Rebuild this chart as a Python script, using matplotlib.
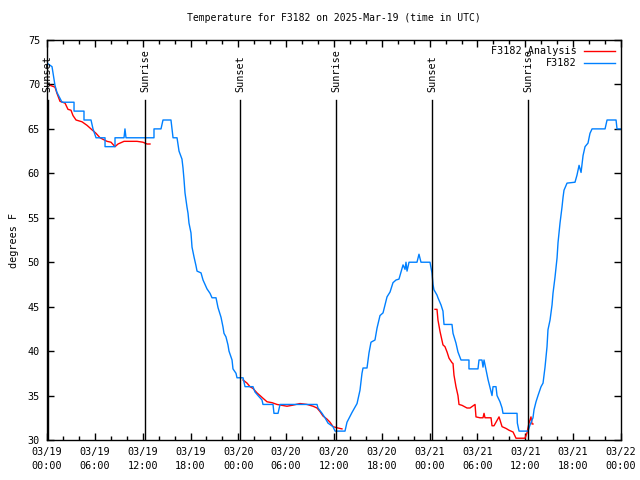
import numpy as np
import matplotlib
matplotlib.use('Agg')
import matplotlib.pyplot as plt

# hours since 03/19 00:00 UTC, temperature in deg F
obs_hours = [0.0, 0.63, 1.0, 1.25, 1.88, 3.39, 3.39, 4.64, 4.64, 5.52, 5.77, 6.15,
             7.28, 7.28, 8.53, 8.53, 9.66, 9.78, 9.91, 13.42, 13.42, 14.3, 14.55,
             15.55, 15.81, 16.31, 16.56, 16.93, 17.06, 17.19, 17.31, 17.56, 17.69,
             17.81, 18.06, 18.19, 18.44, 18.69, 18.82, 19.32, 19.57, 19.82, 20.07,
             20.45, 20.7, 21.2, 21.45, 21.83, 22.08, 22.2, 22.45, 22.7, 22.83,
             23.21, 23.33, 23.71, 23.83, 24.59, 24.84, 25.84, 26.09, 26.47, 26.97,
             27.09, 28.35, 28.47, 28.98, 29.23, 33.87, 33.99, 34.5, 34.87, 35.25,
             35.88, 36.13, 37.38, 37.63, 38.26, 38.89, 39.26, 39.51, 39.64, 40.14,
             40.39, 40.64, 41.14, 41.4, 41.77, 42.15, 42.4, 42.65, 43.03, 43.4,
             43.78, 44.15, 44.41, 44.66, 44.91, 45.03, 45.16, 45.41, 46.41, 46.66,
             46.91, 48.04, 48.29, 48.42, 48.54, 48.92, 49.04, 49.42, 49.67, 49.8,
             50.8, 50.93, 51.3, 51.55, 51.93, 52.93, 52.93, 54.06, 54.19, 54.56,
             54.69, 54.82, 55.07, 55.32, 55.57, 55.82, 55.95, 56.32, 56.45, 56.82,
             57.08, 57.2, 58.96, 59.0, 59.21, 60.34, 60.59, 60.96, 61.09, 61.34,
             61.59, 61.97, 62.22, 62.47, 62.72, 62.84, 63.1, 63.35, 63.47, 63.72,
             63.98, 64.1, 64.35, 64.6, 64.73, 64.85, 65.23, 66.23, 66.48, 66.74,
             66.99, 67.24, 67.49, 67.86, 68.11, 68.37, 70.0, 70.25, 71.38, 71.5, 72.0]
obs_temp = [72.4, 72, 69.9, 69.1, 68, 68, 67, 67, 66, 66, 65, 64,
            64, 63, 63, 64, 64, 65, 64, 64, 65, 65, 66,
            66, 64, 64, 62.5, 61.6, 60.6, 59.25, 57.8, 56.2, 55.5,
            54.4, 53.3, 51.7, 50.6, 49.6, 49, 48.8, 48, 47.5, 47,
            46.5, 46, 46, 44.9, 43.8, 42.7, 42, 41.6, 40.7, 40,
            39, 38, 37.5, 37, 37, 36, 36, 35.4, 35, 34.5,
            34, 34, 33, 33, 34, 34, 33.6, 33, 32.5, 31.9,
            31.5, 31, 31, 32, 33.1, 34.1, 35.6, 37.5, 38.1, 38.1,
            39.8, 41, 41.25, 42.6, 44, 44.3, 45.2, 46.1, 46.65, 47.7,
            48, 48.1, 48.9, 49.7, 49.2, 50, 49, 50, 50, 50.9,
            50, 50, 48.8, 47.5, 46.9, 46.3, 46, 45.2, 44.5, 43,
            43, 42, 40.9, 39.9, 39, 39, 38, 38, 39, 39,
            38.2, 39, 37.9, 36.8, 35.9, 35, 36, 36, 35, 34.3,
            33.6, 33, 33, 31.9, 31, 31, 31.7, 32.5, 33.4, 34.3,
            35, 36, 36.4, 38.2, 40.5, 42.4, 43.5, 45.2, 46.5, 48.3,
            50.5, 52.2, 54.4, 56.2, 57.3, 58.1, 58.9, 59, 59.8, 60.9,
            60.1, 62, 63, 63.4, 64.5, 65, 65, 66, 66, 65, 65]

# analysis series, three separate runs (nan = gap)
ana_hours = [0.38, 1.0, 1.25, 1.63, 2.26, 2.63, 3.01, 3.26, 3.64, 4.39, 5.02, 5.64,
             6.15, 6.65, 7.53, 8.03, 8.53, 8.91, 9.66, 10.41, 11.29, 12.04, 12.54, 12.92,
             np.nan,
             24.59, 25.09, 25.46, 25.84, 26.34, 26.72, 27.09, 27.6, 28.22, 28.85, 30.1,
             30.73, 31.74, 32.61, 33.37, 33.87, 34.24, 34.62, 35.12, 35.5, 35.88, 36.5, 37.0,
             np.nan,
             48.67, 48.92, 49.04, 49.3, 49.67, 49.92, 50.18, 50.43, 50.8, 50.93, 51.05,
             51.3, 51.55, 51.68, 52.06, 52.68, 53.06, 53.69, 53.81, 54.31, 54.69, 54.82,
             54.94, 55.7, 55.82, 56.07, 56.7, 57.08, 57.58, 57.95, 58.46, 58.83, 59.96,
             60.21, 60.46, 60.71, 60.84, 60.96]
ana_temp = [69.9, 69.7, 69, 68.1, 67.9, 67.2, 67.1, 66.5, 66, 65.8, 65.4, 64.9,
            64.5, 64, 63.6, 63.5, 63, 63.3, 63.6, 63.6, 63.6, 63.5, 63.3, 63.3,
            np.nan,
            36.75, 36.4, 36, 35.8, 35.3, 35, 34.7, 34.3, 34.2, 34, 33.8,
            33.9, 34.1, 34, 33.8, 33.6, 33.2, 32.7, 32.35, 32, 31.5, 31.35, 31.25,
            np.nan,
            44.7, 44.7, 43.5, 42.2, 40.7, 40.5, 39.9, 39.2, 38.7, 38.6, 37.3,
            36, 35, 34, 33.9, 33.6, 33.6, 34, 32.6, 32.5, 32.5, 33,
            32.5, 32.5, 31.6, 31.6, 32.6, 31.5, 31.3, 31.1, 30.9, 30.2, 30.2,
            30.8, 31.9, 32.6, 31.8, 31.8]

sun_hours = [0.1, 12.29, 24.21, 36.25, 48.29, 60.34]
sun_labels = ['Sunset', 'Sunrise', 'Sunset', 'Sunrise', 'Sunset', 'Sunrise']

xtick_labels = ['03/19\n00:00', '03/19\n06:00', '03/19\n12:00', '03/19\n18:00',
                '03/20\n00:00', '03/20\n06:00', '03/20\n12:00', '03/20\n18:00',
                '03/21\n00:00', '03/21\n06:00', '03/21\n12:00', '03/21\n18:00',
                '03/22\n00:00']

plt.rcParams['font.family'] = ['DejaVu Sans Mono']
plt.rcParams['font.size'] = 7.3

fig = plt.figure(figsize=(6.4, 4.8), dpi=100)
ax = fig.add_axes([47 / 640, 40 / 480, 574 / 640, 400 / 480])

ax.plot(ana_hours, ana_temp, color='#ff0000', lw=1.0, label='F3182 Analysis')
ax.plot(obs_hours, obs_temp, color='#0080ff', lw=1.0, label='F3182')

for h, lab in zip(sun_hours, sun_labels):
    ax.axvline(h, ymin=0, ymax=(68.3 - 30) / 45, color='black', lw=1.0)
    ax.text(h, 69.1, lab, rotation=90, ha='center', va='bottom', fontsize=7.3)

ax.set_xlim(0, 72)
ax.set_ylim(30, 75)
ax.set_xticks(np.arange(0, 73, 6))
ax.set_xticklabels(xtick_labels)
ax.set_xticks(np.arange(0, 73, 2), minor=True)
ax.set_yticks(np.arange(30, 76, 5))
ax.tick_params(which='both', direction='in', top=True, right=True, width=1.0)
ax.tick_params(which='major', length=5)
ax.tick_params(which='minor', length=3)
ax.tick_params(axis='x', pad=5)
ax.tick_params(axis='y', pad=5)
for lab in ax.get_xticklabels():
    lab.set_linespacing(1.5)
for s in ax.spines.values():
    s.set_linewidth(1.0)

ax.set_ylabel('degrees F', labelpad=6)
ax.set_title('Temperature for F3182 on 2025-Mar-19 (time in UTC)', fontsize=7.0, pad=14)

ax.legend(loc='upper right', frameon=False, markerfirst=False, handlelength=3.0,
          handletextpad=0.8, labelspacing=0.2, borderaxespad=0.2, fontsize=7.3)

fig.savefig('out.png', dpi=100)
